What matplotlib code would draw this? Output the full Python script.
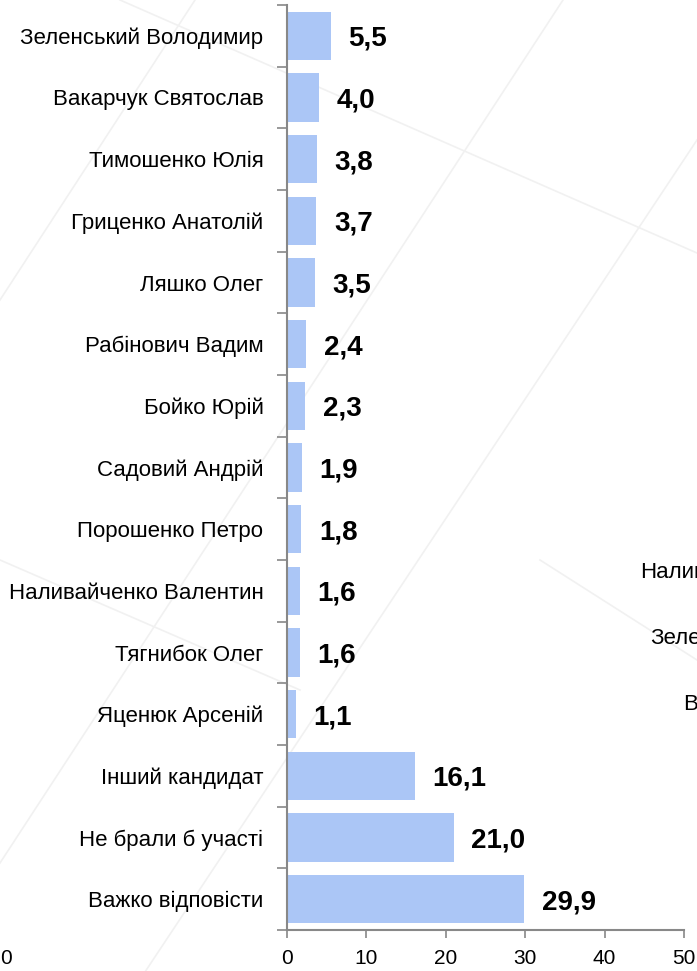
import matplotlib.pyplot as plt
from matplotlib.lines import Line2D
import numpy as np

plt.rcParams['font.family'] = ['Liberation Sans Narrow', 'Liberation Sans', 'DejaVu Sans']

candidates = ['Зеленський Володимир', 'Вакарчук Святослав', 'Тимошенко Юлія',
              'Гриценко Анатолій', 'Ляшко Олег', 'Рабінович Вадим', 'Бойко Юрій',
              'Садовий Андрій', 'Порошенко Петро', 'Наливайченко Валентин',
              'Тягнибок Олег', 'Яценюк Арсеній', 'Інший кандидат',
              'Не брали б участі', 'Важко відповісти']
values = [5.5, 4.0, 3.8, 3.7, 3.5, 2.4, 2.3, 1.9, 1.8, 1.6, 1.6, 1.1, 16.1, 21.0, 29.9]
xticks = [0, 10, 20, 30, 40, 50]

W, H = 697, 971
fig = plt.figure(figsize=(W / 100, H / 100), dpi=100)

# very faint diagonal lines in the background of the source slide
for (x0, y0, x1, y1) in [(120, 0, 697, 253), (563, 0, 0, 863), (697, 140, 60, 1100),
                         (195, 0, 0, 300), (540, 560, 697, 660), (0, 560, 300, 690)]:
    fig.add_artist(Line2D([x0 / W, x1 / W], [1 - y0 / H, 1 - y1 / H],
                          color='#f1f1f1', lw=1.2, zorder=0))

ax = fig.add_axes([287 / W, 1 - 930 / H, (684 - 287) / W, (930 - 5) / H])
ax.patch.set_alpha(0)

y = np.arange(len(candidates))
ax.barh(y, values, height=0.78, color='#abc6f6', zorder=2)
ax.set_ylim(len(candidates) - 0.5, -0.5)
ax.set_xlim(0, 50)

for yi, v in zip(y, values):
    ax.text(v + 2.2, yi + 0.05, f'{v:.1f}'.replace('.', ','), va='center', ha='left',
            fontsize=20, fontweight='bold', color='black')

ax.set_yticks(y)
ax.set_yticklabels(candidates, fontsize=16)
ax.set_yticks(np.arange(-0.5, len(candidates), 1), minor=True)
ax.tick_params(axis='y', which='major', length=0, pad=17)
ax.tick_params(axis='y', which='minor', length=7, width=1.2, color='#888888')

ax.set_xticks(xticks)
ax.set_xticklabels([str(t) for t in xticks], fontsize=15)
ax.tick_params(axis='x', length=6, width=1.2, color='#888888', pad=8)

for s in ['top', 'right']:
    ax.spines[s].set_visible(False)
for s in ['left', 'bottom']:
    ax.spines[s].set_color('#888888')
    ax.spines[s].set_linewidth(1.5)

# visible fragments of a neighbouring chart at the edges
fig.text(0 / W, 1 - 958 / H, '0', fontsize=15, va='center', ha='left')
fig.text(640 / W, 1 - 572 / H, 'Налив', fontsize=16, va='center', ha='left')
fig.text(650 / W, 1 - 638 / H, 'Зеле', fontsize=16, va='center', ha='left')
fig.text(683 / W, 1 - 705 / H, 'В', fontsize=16, va='center', ha='left')

fig.savefig('out.png', dpi=100)
